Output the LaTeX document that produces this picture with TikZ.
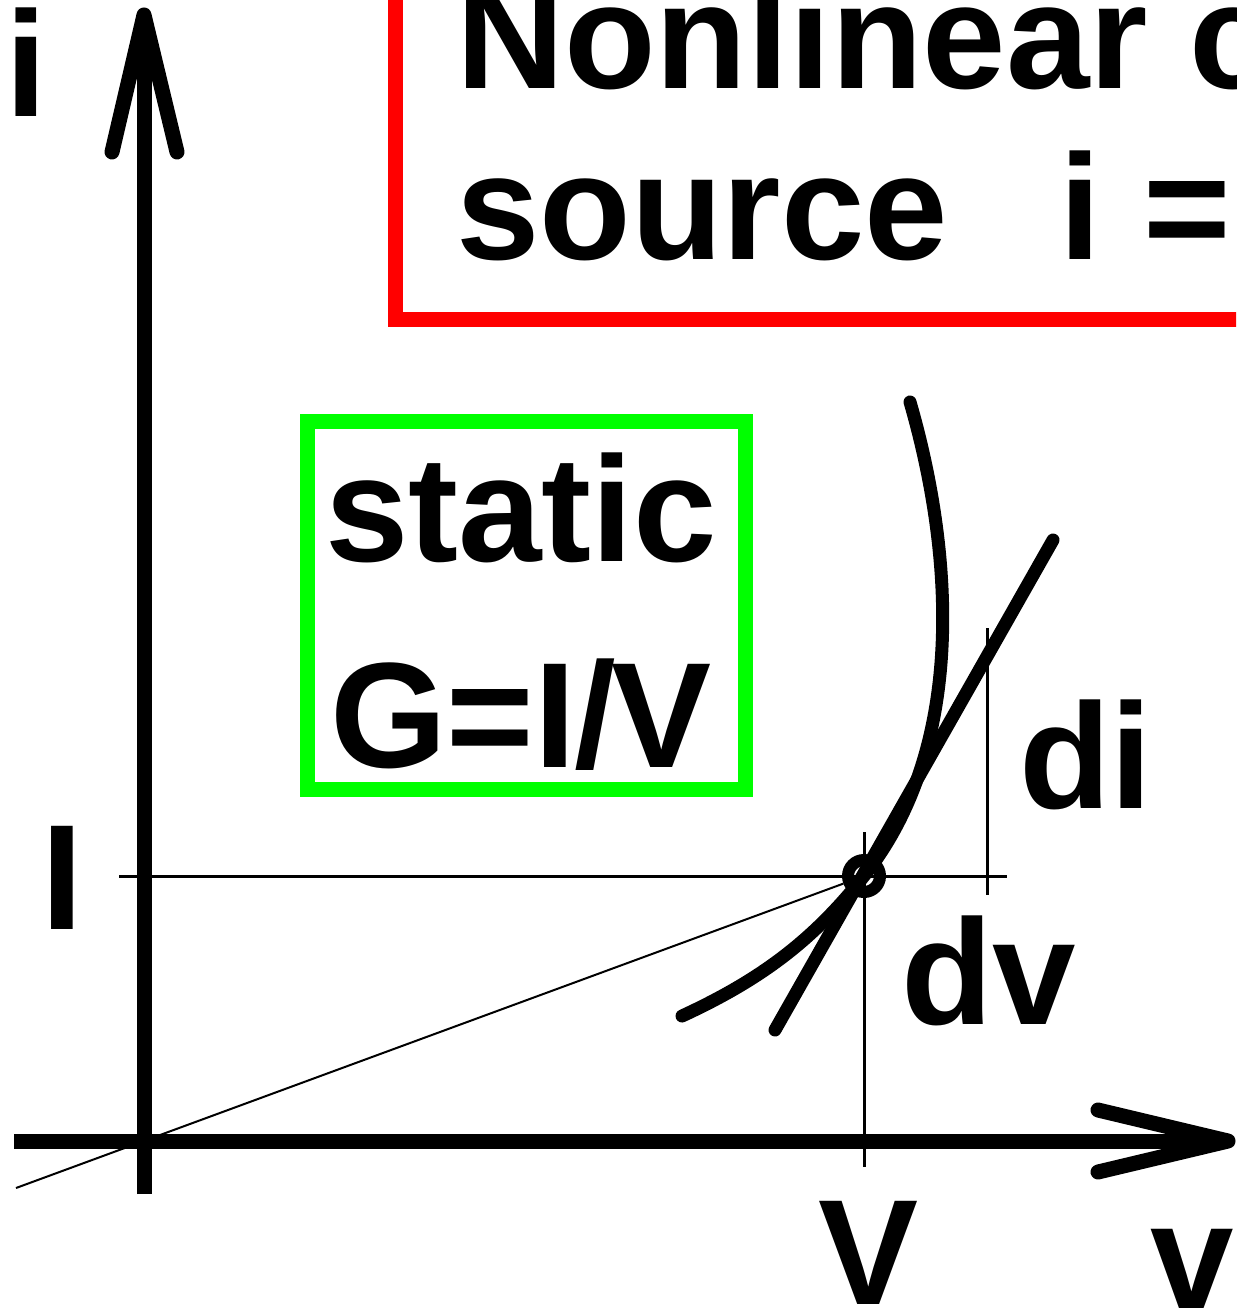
\documentclass[tikz,border=0pt]{standalone}
\usepackage{fontspec}
\setmainfont{Liberation Sans}
\definecolor{boxred}{RGB}{255,0,0}
\definecolor{boxgreen}{RGB}{0,255,0}
\begin{document}
\begin{tikzpicture}[x=0.5pt,y=-0.5pt,
  axisline/.style={line width=7.5pt},
  tipline/.style={line width=7.5pt, line cap=round, line join=round},
  curveline/.style={line width=6.5pt, line cap=round, line join=round},
  thinline/.style={line width=1.5pt},
  hairline/.style={line width=1pt},
  lbl/.style={font=\fontsize{75}{90}\selectfont\bfseries, inner sep=0pt, outer sep=0pt, anchor=base west},
]
\useasboundingbox (0,0) rectangle (1236,1309);
\clip (0,0) rectangle (1236,1309);
\fill[white] (0,0) rectangle (1236,1309);

% coordinates
\coordinate (O) at (144,1141);
\coordinate (ybot) at (144,1194);
\coordinate (ytip) at (144,15);
\coordinate (yarmL) at (112,152);
\coordinate (yarmR) at (177,152);
\coordinate (xleft) at (14,1141);
\coordinate (xtip) at (1228,1141);
\coordinate (xarmU) at (1098,1110);
\coordinate (xarmD) at (1098,1172);
\coordinate (hl) at (119,876);
\coordinate (hr) at (1007,876);
\coordinate (vt) at (864,832);
\coordinate (vb) at (864,1167);
\coordinate (dt) at (987,628);
\coordinate (db) at (987,895);
\coordinate (S) at (16,1188);
\coordinate (tu) at (1053,540);
\coordinate (td) at (775,1030);
\coordinate (ctop) at (910,402);
\coordinate (cend) at (682,1016);

% boxes
\draw[boxred, line width=7.5pt] (395,-60) rectangle (1320,320);
\draw[boxgreen, line width=7.5pt] (307,422) rectangle (745,789);

% thin construction lines
\draw[thinline] (hl) -- (hr);
\draw[thinline] (vt) -- (vb);
\draw[thinline] (dt) -- (db);

% operating point
\node[circle, draw, line width=6pt, minimum size=16pt, inner sep=0pt] (P) at (864,876) {};
\draw[hairline] (S) -- (P);

% characteristic curve
\draw[curveline] (ctop) .. controls (951.7,546) and (969.4,743.4) .. (P.center)
                        .. controls (814.4,938.4) and (763.9,978.2) .. (cend);
% tangent
\draw[curveline] (tu) -- (td);

% axes
\draw[axisline] (ybot) -- (ytip);
\draw[tipline] (yarmL) -- (ytip) -- (yarmR);
\draw[axisline] (xleft) -- (xtip);
\draw[tipline] (xarmU) -- (xtip) -- (xarmD);

% labels
\node[lbl] (li) at (5,117) {i};
\node[lbl] (lI) at (41,929) {I};
\node[lbl] (lt1) at (456,89) {Nonlinear c};
\node[lbl] (lt2) at (456,260) {source\hspace{56pt}i =};
\node[lbl] (ls) at (325,561) {static};
\node[lbl] (lg) at (330,767) {G=I\kern-1pt/\kern-2pt V};
\node[lbl] (ldi) at (1019,808) {di};
\node[lbl] (ldv) at (901,1024) {dv};
\node[lbl] (lV) at (818,1304) {V};
\node[lbl] (lv) at (1150,1308) {v};
\end{tikzpicture}
\end{document}
